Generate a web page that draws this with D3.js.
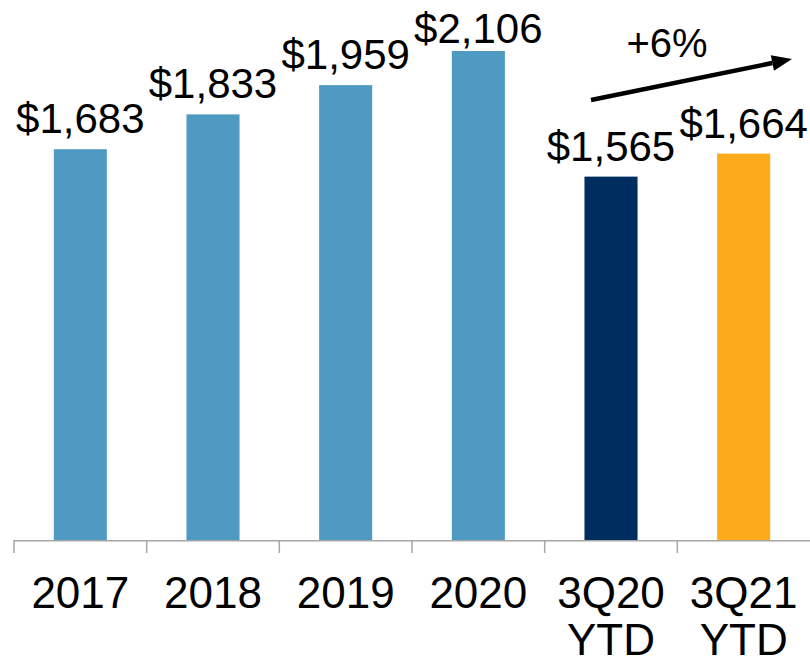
<!DOCTYPE html>
<html>
<head>
<meta charset="utf-8">
<script src="https://cdn.jsdelivr.net/npm/d3@7"></script>
<style>
  body { margin: 0; background: #fff; }
  svg { display: block; font-family: "Liberation Sans", Arial, sans-serif; }
</style>
</head>
<body>
<svg width="810" height="665"></svg>
<script>
var categories = ["2017", "2018", "2019", "2020", "3Q20 YTD", "3Q21 YTD"];
var values = [1683, 1833, 1959, 2106, 1565, 1664];
var labels = ["$1,683", "$1,833", "$1,959", "$2,106", "$1,565", "$1,664"];
var colors = ["#4e9ac3", "#4e9ac3", "#4e9ac3", "#4e9ac3", "#002d5f", "#fdab1a"];
var growthLabel = "+6%";

var svg = d3.select("svg"),
    width = +svg.attr("width"),
    height = +svg.attr("height");

var left = 14, baseY = 540;

var x = d3.scaleBand()
    .domain(categories)
    .range([left, width])
    .paddingInner(0.6)
    .paddingOuter(0.3);

var y = d3.scaleLinear()
    .domain([0, 2106])
    .range([baseY, 51]);

// bars
svg.selectAll("rect.bar")
    .data(categories)
    .enter().append("rect")
    .attr("class", "bar")
    .attr("x", function(d) { return x(d); })
    .attr("y", function(d, i) { return y(values[i]); })
    .attr("width", x.bandwidth())
    .attr("height", function(d, i) { return baseY - y(values[i]); })
    .attr("fill", function(d, i) { return colors[i]; });

// axis line and ticks between categories
var step = x.step();
var gap = step - x.bandwidth();
svg.append("line")
    .attr("x1", left).attr("x2", width)
    .attr("y1", baseY + 0.75).attr("y2", baseY + 0.75)
    .attr("stroke", "#a6a6a6").attr("stroke-width", 1.5);

svg.selectAll("line.tick")
    .data(categories)
    .enter().append("line")
    .attr("class", "tick")
    .attr("x1", function(d) { return x(d) - gap / 2; })
    .attr("x2", function(d) { return x(d) - gap / 2; })
    .attr("y1", baseY)
    .attr("y2", baseY + 13)
    .attr("stroke", "#a6a6a6").attr("stroke-width", 1.5);

// category labels (two lines for the YTD ones)
var catText = svg.selectAll("text.cat")
    .data(categories)
    .enter().append("text")
    .attr("class", "cat")
    .attr("text-anchor", "middle")
    .attr("font-size", "44px")
    .attr("fill", "#000")
    .attr("transform", function(d) { return "translate(" + (x(d) + x.bandwidth() / 2) + ",608)"; });

catText.each(function(d) {
    var parts = d.split(" ");
    var t = d3.select(this);
    parts.forEach(function(p, k) {
        t.append("tspan").attr("x", 0).attr("y", k * 47).text(p);
    });
});

// value labels
svg.selectAll("text.val")
    .data(categories)
    .enter().append("text")
    .attr("class", "val")
    .attr("text-anchor", "middle")
    .attr("font-size", "42px")
    .attr("fill", "#000")
    .attr("x", function(d) { return x(d) + x.bandwidth() / 2; })
    .attr("y", function(d, i) { return Math.max(43, y(values[i]) - 16); })
    .text(function(d, i) { return labels[i]; });

// growth arrow
var ax1 = 591, ay1 = 100, ax2 = 792, ay2 = 59;
var ang = Math.atan2(ay2 - ay1, ax2 - ax1);
var headLen = 20, headW = 8;
var bx = ax2 - headLen * Math.cos(ang), by = ay2 - headLen * Math.sin(ang);

svg.append("line")
    .attr("x1", ax1).attr("y1", ay1)
    .attr("x2", bx).attr("y2", by)
    .attr("stroke", "#000").attr("stroke-width", 4.5);

svg.append("polygon")
    .attr("points", [
        [ax2, ay2],
        [bx + headW * Math.sin(ang), by - headW * Math.cos(ang)],
        [bx - headW * Math.sin(ang), by + headW * Math.cos(ang)]
    ].map(function(p) { return p.join(","); }).join(" "))
    .attr("fill", "#000");

svg.append("text")
    .attr("x", 667).attr("y", 57)
    .attr("text-anchor", "middle")
    .attr("font-size", "40px")
    .text(growthLabel);
</script>
</body>
</html>
